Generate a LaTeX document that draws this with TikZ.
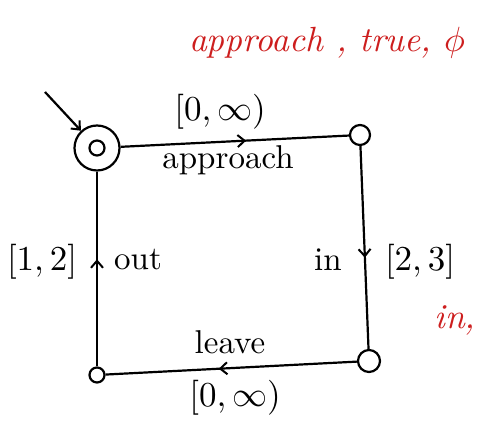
\documentclass[tikz,border=0pt]{standalone}
\usetikzlibrary{arrows.meta,decorations.markings}
\begin{document}
\begin{tikzpicture}[x=1pt,y=1pt,
  conn/.style={line width=2.2pt},
  state/.style={circle,draw,line width=2.2pt,inner sep=0pt},
  lbl/.style={scale=3.3,inner sep=0pt},
  ivl/.style={scale=3.5,inner sep=0pt},
  redlbl/.style={scale=3.5,font=\itshape,text=handred,inner sep=0pt},
  midarrow/.style={postaction={decorate},decoration={markings,
     mark=at position #1 with {\arrow{Straight Barb[length=7pt,width=12pt,line width=2pt]}}}}
]
\definecolor{handred}{RGB}{205,30,30}
\useasboundingbox (0,0) rectangle (490,423);
% states
\node[state,minimum size=45pt] (s0) at (97,275) {};
\node[state,minimum size=15pt] (s0in) at (97,275) {};
\node[state,minimum size=20pt] (s1) at (360,288) {};
\node[state,minimum size=22pt] (s2) at (369,62) {};
\node[state,minimum size=15pt] (s3) at (97,48) {};
\coordinate (init) at (45,331);
% initial arrow
\draw[conn,-{Straight Barb[length=7pt,width=12pt,line width=2pt]}] (init) -- (s0);
% transitions
\draw[conn,midarrow=0.55] (s0) -- (s1);
\draw[conn,midarrow=0.55] (s1) -- (s2);
\draw[conn,midarrow=0.55] (s2) -- (s3);
\draw[conn,midarrow=0.55] (s3) -- (s0);
% labels
\node[ivl] (l1) at (220,311) {$[0,\infty)$};
\node[lbl] (l2) at (228,263) {approach};
\node[lbl] (l3) at (328,163) {in};
\node[ivl] (l4) at (420,161) {$[2,3]$};
\node[lbl] (l5) at (230,81) {leave};
\node[ivl] (l6) at (235,25) {$[0,\infty)$};
\node[ivl] (l7) at (42,161) {$[1,2]$};
\node[lbl] (l8) at (138,163) {out};
% red annotations
\node[redlbl] (r1) at (327,380) {approach , true, $\phi$};
\node[redlbl] (r2) at (455,103) {in,};
\end{tikzpicture}
\end{document}
